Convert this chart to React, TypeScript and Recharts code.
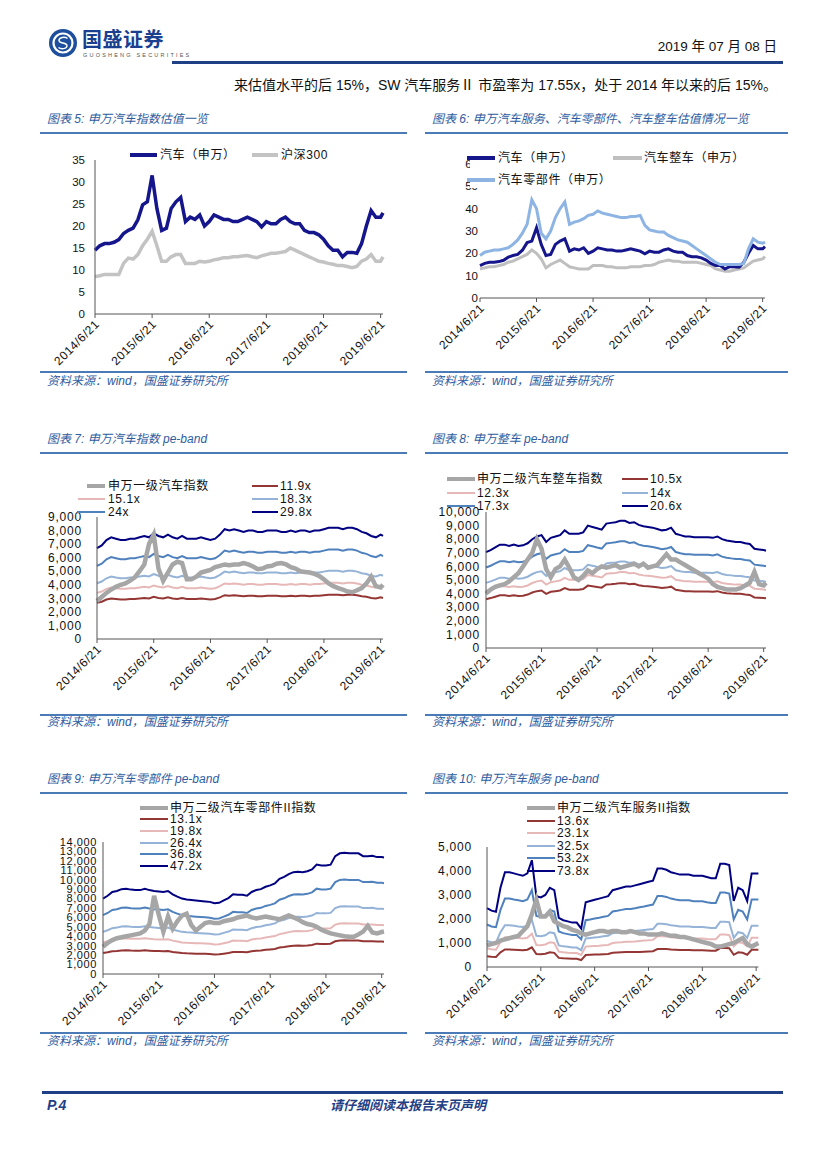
import React from 'react';
import { LineChart, Line, XAxis, YAxis } from 'recharts';

const LATIN = '"Liberation Sans", Arial, "Noto Sans CJK SC", sans-serif';
const CJK = '"Noto Sans CJK SC", "Liberation Sans", sans-serif';
const TITLE_BLUE = '#2f5c9f';
const RULE_BLUE = '#4a7bb7';
const DARK_BLUE = '#1f3f86';

// x axis: months since 2014/6/21, last point early July 2019
const yearLabels = ['2014/6/21', '2015/6/21', '2016/6/21', '2017/6/21', '2018/6/21', '2019/6/21'];
const monthPos = Array.from({ length: 61 }, (_, i) => i).concat([60.5]);

// 图表5 / 图表6: PE (TTM)
const autoSW = [
  14.5, 15.5, 16, 16, 16.3, 16.9, 18.3, 19, 19.5, 21.4,
  24.8, 25.5, 31.5, 24, 19, 19.5, 24, 25.5, 26.5, 21,
  22, 21.5, 22.5, 20, 21, 22.5, 22, 21.5, 21.5, 21,
  21, 21.5, 22, 21.5, 21, 19.8, 21, 20.5, 20.5, 21.5,
  22, 21, 20.5, 20.5, 19, 18.5, 18.5, 18, 17, 15.5,
  14.5, 14.5, 13, 14, 14, 13.8, 16, 20, 23.5, 22,
  22, 23,
];
const hs300 = [
  8.5, 8.7, 9, 9, 9, 9, 11.5, 12.7, 12.5, 13.5,
  15.5, 17, 18.8, 15.5, 12, 12, 13, 13.5, 13.5, 11.5,
  11.5, 11.5, 12, 11.8, 12, 12.3, 12.5, 12.8, 12.8, 13,
  13, 13.2, 13.3, 13, 12.8, 13.2, 13.5, 13.8, 13.8, 14,
  14.2, 15, 14.5, 14, 13.5, 13, 12.5, 12, 11.8, 11.5,
  11.3, 11, 11, 10.8, 10.5, 10.8, 12, 12.5, 13.5, 12,
  12, 13,
];
const vehiclePE = [
  13, 13.5, 14, 14, 14.5, 15, 16, 16.5, 17.5, 18.5,
  19.5, 21.5, 20, 17.5, 13.5, 15, 16, 17, 15.5, 14,
  13.5, 13, 13, 13, 14.5, 14.5, 14.5, 14, 14, 13.5,
  13.5, 13.5, 14, 14, 14, 14.5, 14.5, 15, 16, 16.5,
  17, 16.5, 16.5, 16, 16, 16, 16, 15.5, 15, 14.5,
  13, 12.5, 12, 12, 12.5, 13, 13.5, 15, 16.5, 17,
  17.5, 18.5,
];
const partsPE = [
  19, 20.5, 21, 21.5, 21.5, 22, 22.5, 24, 26, 29,
  33, 44, 40, 29, 26.5, 30, 36, 40, 43, 33,
  34, 34.5, 35.5, 37, 37.5, 39, 38, 37.5, 37, 36.5,
  36, 36, 36.5, 36.5, 37, 32.5, 30.5, 30, 29.5, 29.5,
  28, 27, 26, 25.5, 25, 23.5, 22, 20.5, 19, 17.5,
  16, 15, 15, 15, 15, 15, 15.5, 22, 26.5, 25,
  24.5, 25,
];

// 图表7: 申万汽车 pe-band
const autoIdx = [
  2800, 3100, 3400, 3650, 3850, 4000, 4100, 4300, 4550, 5000,
  5500, 7000, 7700, 5200, 4300, 4900, 5500, 5700, 5600, 4400,
  4400, 4600, 4900, 5000, 5100, 5300, 5400, 5500, 5450, 5500,
  5500, 5600, 5500, 5350, 5150, 5200, 5350, 5400, 5550, 5600,
  5500, 5300, 5200, 5000, 4950, 4900, 4800, 4650, 4400, 4100,
  3900, 3750, 3650, 3500, 3450, 3600, 3750, 4100, 4600, 3900,
  3800, 4000,
];
const auto119 = [
  2670, 2750, 2910, 2990, 2950, 2910, 2910, 2950, 2950, 2990,
  3030, 2990, 3110, 3030, 2990, 3070, 2990, 2950, 3030, 2950,
  2950, 2950, 2990, 2950, 2910, 2950, 3070, 3230, 3190, 3230,
  3190, 3150, 3190, 3190, 3150, 3150, 3190, 3190, 3190, 3150,
  3150, 3190, 3150, 3190, 3190, 3150, 3190, 3190, 3230, 3270,
  3270, 3270, 3230, 3270, 3270, 3230, 3150, 3110, 3030, 2990,
  3070, 3030,
];
const auto151 = [
  3400, 3500, 3700, 3800, 3750, 3700, 3700, 3750, 3750, 3800,
  3850, 3800, 3950, 3850, 3800, 3900, 3800, 3750, 3850, 3750,
  3750, 3750, 3800, 3750, 3700, 3750, 3900, 4100, 4050, 4100,
  4050, 4000, 4050, 4050, 4000, 4000, 4050, 4050, 4050, 4000,
  4000, 4050, 4000, 4050, 4050, 4000, 4050, 4050, 4100, 4150,
  4150, 4150, 4100, 4150, 4150, 4100, 4000, 3950, 3850, 3800,
  3900, 3850,
];
const auto183 = [
  4110, 4240, 4480, 4610, 4540, 4480, 4480, 4540, 4540, 4610,
  4670, 4610, 4790, 4670, 4610, 4730, 4610, 4540, 4670, 4540,
  4540, 4540, 4610, 4540, 4480, 4540, 4730, 4970, 4910, 4970,
  4910, 4850, 4910, 4910, 4850, 4850, 4910, 4910, 4910, 4850,
  4850, 4910, 4850, 4910, 4910, 4850, 4910, 4910, 4970, 5030,
  5030, 5030, 4970, 5030, 5030, 4970, 4850, 4790, 4670, 4610,
  4730, 4670,
];
const auto240 = [
  5390, 5550, 5880, 6040, 5960, 5880, 5880, 5960, 5960, 6040,
  6120, 6040, 6280, 6120, 6040, 6200, 6040, 5960, 6120, 5960,
  5960, 5960, 6040, 5960, 5880, 5960, 6200, 6520, 6440, 6520,
  6440, 6360, 6440, 6440, 6360, 6360, 6440, 6440, 6440, 6360,
  6360, 6440, 6360, 6440, 6440, 6360, 6440, 6440, 6520, 6600,
  6600, 6600, 6520, 6600, 6600, 6520, 6360, 6280, 6120, 6040,
  6200, 6120,
];
const auto298 = [
  6700, 6900, 7300, 7500, 7400, 7300, 7300, 7400, 7400, 7500,
  7600, 7500, 7800, 7600, 7500, 7700, 7500, 7400, 7600, 7400,
  7400, 7400, 7500, 7400, 7300, 7400, 7700, 8100, 8000, 8100,
  8000, 7900, 8000, 8000, 7900, 7900, 8000, 8000, 8000, 7900,
  7900, 8000, 7900, 8000, 8000, 7900, 8000, 8000, 8100, 8200,
  8200, 8200, 8100, 8200, 8200, 8100, 7900, 7800, 7600, 7500,
  7700, 7600,
];

// 图表8: 申万整车 pe-band
const vehIdx = [
  4000, 4300, 4500, 4600, 4700, 4900, 5200, 5500, 6000, 6500,
  7000, 8000, 7300, 5800, 5200, 5800, 6000, 6500, 5900, 5200,
  5000, 5300, 5700, 5500, 5800, 6000, 5900, 6000, 6100, 5900,
  6000, 6100, 6200, 6000, 6200, 5900, 6000, 6100, 6500, 6900,
  6500, 6500, 6300, 6100, 5900, 5700, 5500, 5300, 5100, 4700,
  4500, 4400, 4300, 4300, 4300, 4400, 4600, 4800, 5600, 4700,
  4600, 4800,
];
const veh105 = [
  3590, 3670, 3770, 3870, 3870, 3830, 3870, 3830, 3850, 3930,
  4080, 4180, 4230, 3980, 4130, 4180, 4230, 4410, 4280, 4280,
  4280, 4340, 4590, 4540, 4490, 4440, 4670, 4690, 4720, 4770,
  4770, 4690, 4720, 4620, 4560, 4540, 4510, 4460, 4410, 4440,
  4510, 4280, 4230, 4180, 4180, 4160, 4160, 4160, 4160, 4130,
  4180, 4080, 4030, 4000, 3980, 3980, 3930, 3900, 3720, 3700,
  3670, 3650,
];
const veh123 = [
  4210, 4300, 4420, 4540, 4540, 4480, 4540, 4480, 4510, 4600,
  4780, 4900, 4960, 4660, 4840, 4900, 4960, 5160, 5010, 5010,
  5010, 5070, 5370, 5310, 5250, 5190, 5460, 5490, 5520, 5580,
  5580, 5490, 5520, 5400, 5340, 5310, 5280, 5220, 5160, 5190,
  5280, 5010, 4960, 4900, 4900, 4870, 4870, 4870, 4870, 4840,
  4900, 4780, 4720, 4690, 4660, 4660, 4600, 4570, 4360, 4330,
  4300, 4270,
];
const veh140 = [
  4790, 4900, 5030, 5170, 5170, 5100, 5170, 5100, 5130, 5240,
  5440, 5580, 5640, 5300, 5510, 5580, 5640, 5880, 5710, 5710,
  5710, 5780, 6120, 6050, 5980, 5920, 6220, 6260, 6290, 6360,
  6360, 6260, 6290, 6150, 6090, 6050, 6020, 5950, 5880, 5920,
  6020, 5710, 5640, 5580, 5580, 5540, 5540, 5540, 5540, 5510,
  5580, 5440, 5370, 5340, 5300, 5300, 5240, 5200, 4960, 4930,
  4900, 4860,
];
const veh173 = [
  5920, 6050, 6220, 6380, 6380, 6300, 6380, 6300, 6340, 6470,
  6720, 6890, 6970, 6550, 6800, 6890, 6970, 7270, 7060, 7060,
  7060, 7140, 7560, 7480, 7390, 7310, 7690, 7730, 7770, 7850,
  7850, 7730, 7770, 7600, 7520, 7480, 7430, 7350, 7270, 7310,
  7430, 7060, 6970, 6890, 6890, 6850, 6850, 6850, 6850, 6800,
  6890, 6720, 6640, 6590, 6550, 6550, 6470, 6430, 6130, 6090,
  6050, 6010,
];
const veh206 = [
  7050, 7200, 7400, 7600, 7600, 7500, 7600, 7500, 7550, 7700,
  8000, 8200, 8300, 7800, 8100, 8200, 8300, 8650, 8400, 8400,
  8400, 8500, 9000, 8900, 8800, 8700, 9150, 9200, 9250, 9350,
  9350, 9200, 9250, 9050, 8950, 8900, 8850, 8750, 8650, 8700,
  8850, 8400, 8300, 8200, 8200, 8150, 8150, 8150, 8150, 8100,
  8200, 8000, 7900, 7850, 7800, 7800, 7700, 7650, 7300, 7250,
  7200, 7150,
];

// 图表9: 申万汽车零部件 pe-band
const partIdx = [
  2900, 3300, 3600, 3800, 3900, 4000, 4100, 4200, 4300, 4600,
  5300, 8300, 6300, 4500, 6100, 4800, 5600, 6200, 6400, 5200,
  4600, 5000, 5400, 5500, 5400, 5400, 5600, 5700, 5800, 6000,
  6100, 6200, 6000, 5900, 6000, 6100, 6000, 5900, 5800, 6000,
  6200, 6000, 5800, 5500, 5300, 5200, 5000, 4700, 4500, 4300,
  4200, 4100, 4000, 3950, 3950, 4200, 4500, 5100, 4400, 4300,
  4450, 4500,
];
const part131 = [
  2220, 2300, 2410, 2440, 2500, 2510, 2480, 2470, 2470, 2510,
  2470, 2440, 2430, 2410, 2440, 2340, 2280, 2220, 2190, 2180,
  2160, 2150, 2140, 2120, 2080, 2100, 2160, 2230, 2340, 2330,
  2330, 2300, 2410, 2470, 2500, 2570, 2610, 2660, 2800, 2860,
  2940, 3000, 3010, 3000, 3020, 3080, 3220, 3190, 3190, 3220,
  3470, 3550, 3570, 3550, 3550, 3550, 3470, 3470, 3480, 3440,
  3440, 3430,
];
const part198 = [
  3350, 3480, 3650, 3690, 3770, 3790, 3750, 3730, 3730, 3790,
  3730, 3690, 3670, 3650, 3690, 3540, 3440, 3350, 3310, 3290,
  3270, 3250, 3230, 3210, 3140, 3160, 3270, 3370, 3540, 3520,
  3520, 3480, 3650, 3730, 3770, 3880, 3940, 4020, 4230, 4320,
  4440, 4530, 4550, 4530, 4570, 4650, 4860, 4820, 4820, 4860,
  5240, 5360, 5380, 5360, 5360, 5360, 5240, 5240, 5260, 5200,
  5200, 5170,
];
const part264 = [
  4470, 4640, 4860, 4920, 5030, 5060, 5000, 4980, 4980, 5060,
  4980, 4920, 4890, 4860, 4920, 4720, 4580, 4470, 4420, 4390,
  4360, 4330, 4300, 4280, 4190, 4220, 4360, 4500, 4720, 4700,
  4700, 4640, 4860, 4980, 5030, 5170, 5250, 5370, 5650, 5760,
  5930, 6040, 6070, 6040, 6090, 6200, 6480, 6430, 6430, 6480,
  6990, 7160, 7180, 7160, 7160, 7160, 6990, 6990, 7020, 6930,
  6930, 6900,
];
const part368 = [
  6240, 6470, 6790, 6860, 7020, 7060, 6980, 6940, 6940, 7060,
  6940, 6860, 6830, 6790, 6860, 6590, 6400, 6240, 6160, 6120,
  6080, 6050, 6010, 5970, 5850, 5890, 6080, 6280, 6590, 6550,
  6550, 6470, 6790, 6940, 7020, 7220, 7330, 7490, 7880, 8030,
  8270, 8420, 8460, 8420, 8500, 8660, 9050, 8970, 8970, 9050,
  9750, 9980, 10020, 9980, 9980, 9980, 9750, 9750, 9790, 9670,
  9670, 9630,
];
const part472 = [
  8000, 8300, 8700, 8800, 9000, 9050, 8950, 8900, 8900, 9050,
  8900, 8800, 8750, 8700, 8800, 8450, 8200, 8000, 7900, 7850,
  7800, 7750, 7700, 7650, 7500, 7550, 7800, 8050, 8450, 8400,
  8400, 8300, 8700, 8900, 9000, 9250, 9400, 9600, 10100, 10300,
  10600, 10800, 10850, 10800, 10900, 11100, 11600, 11500, 11500, 11600,
  12500, 12800, 12850, 12800, 12800, 12800, 12500, 12500, 12550, 12400,
  12400, 12350,
];

// 图表10: 申万汽车服务 pe-band
const servIdx = [
  900, 950, 1000, 1100, 1150, 1200, 1250, 1300, 1500, 1700,
  2200, 2800, 2100, 2100, 2300, 1900, 1800, 1700, 1650, 1550,
  1500, 1400, 1350, 1400, 1450, 1500, 1500, 1450, 1500, 1500,
  1450, 1450, 1500, 1450, 1400, 1400, 1350, 1350, 1350, 1400,
  1350, 1300, 1300, 1250, 1250, 1200, 1150, 1100, 1050, 1000,
  950, 850, 850, 900, 950, 1000, 1100, 1200, 950, 850,
  950, 1000,
];
const serv136 = [
  450, 430, 420, 610, 730, 730, 720, 710, 700, 720,
  820, 540, 530, 550, 610, 590, 380, 360, 350, 340,
  340, 290, 500, 510, 520, 520, 530, 540, 590, 600,
  610, 620, 620, 630, 630, 640, 650, 660, 750, 750,
  750, 730, 720, 710, 710, 710, 700, 700, 700, 690,
  680, 680, 790, 790, 780, 510, 610, 590, 510, 720,
  720, 720,
];
const serv231 = [
  770, 740, 720, 1030, 1240, 1240, 1220, 1210, 1190, 1220,
  1390, 920, 910, 940, 1030, 1000, 640, 610, 590, 580,
  580, 500, 850, 860, 880, 890, 910, 920, 1000, 1020,
  1030, 1050, 1050, 1060, 1080, 1100, 1110, 1130, 1280, 1280,
  1270, 1240, 1220, 1210, 1210, 1210, 1190, 1190, 1190, 1170,
  1160, 1160, 1350, 1350, 1330, 860, 1030, 1000, 860, 1220,
  1220, 1220,
];
const serv325 = [
  1080, 1030, 1010, 1450, 1740, 1740, 1720, 1690, 1670, 1720,
  1960, 1300, 1280, 1320, 1450, 1410, 900, 860, 840, 810,
  810, 700, 1190, 1210, 1230, 1250, 1280, 1300, 1410, 1430,
  1450, 1470, 1470, 1500, 1520, 1540, 1560, 1580, 1800, 1800,
  1780, 1740, 1720, 1690, 1690, 1690, 1670, 1670, 1670, 1650,
  1630, 1630, 1890, 1890, 1870, 1210, 1450, 1410, 1210, 1720,
  1720, 1720,
];
const serv532 = [
  1770, 1690, 1660, 2380, 2850, 2850, 2810, 2780, 2740, 2810,
  3210, 2130, 2090, 2160, 2380, 2310, 1480, 1410, 1370, 1330,
  1330, 1150, 1950, 1980, 2020, 2050, 2090, 2130, 2310, 2340,
  2380, 2420, 2420, 2450, 2490, 2520, 2560, 2600, 2960, 2960,
  2920, 2850, 2810, 2780, 2780, 2780, 2740, 2740, 2740, 2700,
  2670, 2670, 3100, 3100, 3060, 1980, 2380, 2310, 1980, 2810,
  2810, 2810,
];
const serv738 = [
  2450, 2350, 2300, 3300, 3950, 3950, 3900, 3850, 3800, 3900,
  4450, 2950, 2900, 3000, 3300, 3200, 2050, 1950, 1900, 1850,
  1850, 1600, 2700, 2750, 2800, 2850, 2900, 2950, 3200, 3250,
  3300, 3350, 3350, 3400, 3450, 3500, 3550, 3600, 4100, 4100,
  4050, 3950, 3900, 3850, 3850, 3850, 3800, 3800, 3800, 3750,
  3700, 3700, 4300, 4300, 4250, 2750, 3300, 3200, 2750, 3900,
  3900, 3900,
];

const buildRows = (cols: Record<string, number[]>) =>
  monthPos.map((t, i) => {
    const row: Record<string, number> = { t };
    Object.keys(cols).forEach((k) => { row[k] = cols[k][i]; });
    return row;
  });

const peColors = {
  idx: '#a6a6a6',
  b1: '#943634',
  b2: '#e6b9b8',
  b3: '#95b3d7',
  b4: '#4f81bd',
  b5: '#000080',
};

const XTick = (props: any) => {
  const { x, y, payload } = props;
  const ax = x + 5;
  const ay = y + 5;
  return (
    <text x={ax} y={ay} transform={`rotate(-45, ${ax}, ${ay})`} textAnchor="end"
      fontSize={12} letterSpacing={0.5} fill="#111" fontFamily={LATIN}>
      {yearLabels[Math.round(payload.value / 12)]}
    </text>
  );
};

const YTick = (props: any) => {
  const { x, y, payload, comma, fs, ls } = props;
  const v = comma ? Number(payload.value).toLocaleString('en-US') : String(payload.value);
  return (
    <text x={x} y={y} dy={fs * 0.35} textAnchor="end" fontSize={fs} letterSpacing={ls} fill="#111" fontFamily={LATIN}>
      {v}
    </text>
  );
};

type Series = { key: string; color: string; w: number };

const Panel = ({ left, top, width, height, yWidth, yGap, yMax, yStep, comma, rows, series, yLine = true, right, fs = 12, ls = 0 }: any) => {
  const ticks: number[] = [];
  for (let v = 0; v <= yMax; v += yStep) ticks.push(v);
  return (
    <div style={{ position: 'absolute', left, top }}>
      <LineChart width={width} height={height} data={rows} margin={{ top: 10, right, left: 0, bottom: 0 }}>
        <XAxis type="number" dataKey="t" domain={[0, 60.5]} ticks={[0, 12, 24, 36, 48, 60]} interval={0}
          height={60} tickSize={4} tickMargin={2} stroke="#555" tick={<XTick />} />
        <YAxis type="number" domain={[0, yMax]} ticks={ticks} interval={0} width={yWidth}
          tickSize={0} tickMargin={yGap} tickLine={false} axisLine={yLine ? { stroke: '#555' } : false}
          tick={<YTick comma={comma} fs={fs} ls={ls} />} />
        {series.map((s: Series) => (
          <Line key={s.key} type="linear" dataKey={s.key} stroke={s.color} strokeWidth={s.w}
            dot={false} activeDot={false} isAnimationActive={false} />
        ))}
      </LineChart>
    </div>
  );
};

const LegendItem = ({ x1, x2, tx, y, color, w, label }: any) => (
  <>
    <div style={{ position: 'absolute', left: x1, top: y - w / 2, width: x2 - x1, height: w, background: color }} />
    <div style={{ position: 'absolute', left: tx, top: y - 8, fontSize: 12, lineHeight: '16px', fontFamily: LATIN, color: '#111', whiteSpace: 'nowrap', letterSpacing: 0.6 }}>
      {label}
    </div>
  </>
);

const Section = ({ x, w, titleY, ruleY, srcRuleY, srcY, title }: any) => (
  <>
    <div style={{ position: 'absolute', left: x + 7, top: titleY - 8, fontSize: 12, lineHeight: '16px', fontStyle: 'italic', color: TITLE_BLUE, fontFamily: LATIN, whiteSpace: 'nowrap' }}>
      {title}
    </div>
    <div style={{ position: 'absolute', left: x, top: ruleY - 1, width: w, height: 1.5, background: RULE_BLUE }} />
    <div style={{ position: 'absolute', left: x, top: srcRuleY - 1, width: w, height: 1.5, background: RULE_BLUE }} />
    <div style={{ position: 'absolute', left: x + 7, top: srcY - 8, fontSize: 12, lineHeight: '16px', fontStyle: 'italic', color: TITLE_BLUE, fontFamily: LATIN, whiteSpace: 'nowrap' }}>
      资料来源：wind，国盛证券研究所
    </div>
  </>
);

const peSeries: Series[] = [
  { key: 'b1', color: peColors.b1, w: 2 },
  { key: 'b2', color: peColors.b2, w: 2 },
  { key: 'b3', color: peColors.b3, w: 2 },
  { key: 'b4', color: peColors.b4, w: 2 },
  { key: 'b5', color: peColors.b5, w: 2 },
  { key: 'idx', color: peColors.idx, w: 4.5 },
];

export default function App() {
  const rows5 = buildRows({ auto: autoSW, hs: hs300 });
  const rows6 = buildRows({ veh: vehiclePE, auto: autoSW, parts: partsPE });
  const rows7 = buildRows({ idx: autoIdx, b1: auto119, b2: auto151, b3: auto183, b4: auto240, b5: auto298 });
  const rows8 = buildRows({ idx: vehIdx, b1: veh105, b2: veh123, b3: veh140, b4: veh173, b5: veh206 });
  const rows9 = buildRows({ idx: partIdx, b1: part131, b2: part198, b3: part264, b4: part368, b5: part472 });
  const rows10 = buildRows({ idx: servIdx, b1: serv136, b2: serv231, b3: serv325, b4: serv532, b5: serv738 });

  return (
    <div style={{ position: 'absolute', left: 0, top: 0, width: 827, height: 1170, background: '#fff', overflow: 'hidden', fontFamily: LATIN }}>
      {/* header */}
      <svg style={{ position: 'absolute', left: 48, top: 28 }} width={30} height={30} viewBox="0 0 30 30">
        <circle cx={15} cy={15} r={14} fill="#1d4f9e" />
        <circle cx={15} cy={15} r={9.5} fill="none" stroke="#fff" strokeWidth={2.2} />
        <path d="M19.5 10.5 C17 8.5 11 9 11 12.5 C11 16 19 14 19 17.8 C19 21 13 21.5 10.5 19.5" fill="none" stroke="#1d4f9e" strokeWidth={3.2} />
        <path d="M19.5 10.5 C17 8.5 11 9 11 12.5 C11 16 19 14 19 17.8 C19 21 13 21.5 10.5 19.5" fill="none" stroke="#fff" strokeWidth={1.4} />
      </svg>
      <div style={{ position: 'absolute', left: 82, top: 27, fontSize: 20, lineHeight: '24px', fontWeight: 'bold', color: '#1b3f8f', fontFamily: CJK, letterSpacing: 0.5 }}>国盛证券</div>
      <div style={{ position: 'absolute', left: 83, top: 52, fontSize: 5.5, lineHeight: '6px', color: '#555', letterSpacing: 2.2, whiteSpace: 'nowrap' }}>GUOSHENG SECURITIES</div>
      <div style={{ position: 'absolute', right: 827 - 777, top: 38, fontSize: 13.5, lineHeight: '18px', color: '#111', whiteSpace: 'nowrap' }}>2019 年 07 月 08 日</div>
      <div style={{ position: 'absolute', left: 172, top: 61, width: 611, height: 3, background: DARK_BLUE }} />
      <div style={{ position: 'absolute', right: 827 - 777, top: 76, fontSize: 14, lineHeight: '18px', color: '#111', whiteSpace: 'nowrap' }}>
        来估值水平的后 15%，SW 汽车服务Ⅱ 市盈率为 17.55x，处于 2014 年以来的后 15%。
      </div>

      {/* section frames */}
      <Section x={40} w={367} titleY={119} ruleY={133} srcRuleY={372} srcY={381} title="图表 5:  申万汽车指数估值一览" />
      <Section x={425} w={363} titleY={119} ruleY={133} srcRuleY={372} srcY={381} title="图表 6:  申万汽车服务、汽车零部件、汽车整车估值情况一览" />
      <Section x={40} w={367} titleY={439} ruleY={453} srcRuleY={715} srcY={722} title="图表 7:  申万汽车指数 pe-band" />
      <Section x={425} w={363} titleY={439} ruleY={453} srcRuleY={715} srcY={722} title="图表 8:  申万整车 pe-band" />
      <Section x={40} w={367} titleY={779} ruleY={793} srcRuleY={1033} srcY={1041} title="图表 9:  申万汽车零部件 pe-band" />
      <Section x={425} w={363} titleY={779} ruleY={793} srcRuleY={1033} srcY={1041} title="图表 10:  申万汽车服务 pe-band" />

      {/* 图表5 */}
      <Panel left={40} top={150} width={350} height={224} yWidth={55} yGap={10} right={7} yMax={35} yStep={5}
        fs={11.5} rows={rows5}
        series={[{ key: 'hs', color: '#c3c3c3', w: 3.5 }, { key: 'auto', color: '#15158c', w: 3.5 }]} />
      <LegendItem x1={130} x2={157} tx={160} y={155} color="#15158c" w={4} label="汽车（申万）" />
      <LegendItem x1={252} x2={278} tx={281} y={155} color="#c3c3c3" w={4} label="沪深300" />

      {/* 图表6 */}
      <Panel left={425} top={154} width={345} height={204} yWidth={55} yGap={2} right={5} yMax={60} yStep={10}
        fs={11.5} rows={rows6} yLine={false}
        series={[{ key: 'veh', color: '#bfbfbf', w: 3 }, { key: 'auto', color: '#15158c', w: 3 }, { key: 'parts', color: '#8db4e2', w: 3 }]} />
      <div style={{ position: 'absolute', left: 470, top: 146, width: 287, height: 42, background: '#fff' }} />
      <LegendItem x1={467} x2={495} tx={498} y={158} color="#15158c" w={4} label="汽车（申万）" />
      <LegendItem x1={613} x2={642} tx={644} y={158} color="#bfbfbf" w={4} label="汽车整车（申万）" />
      <LegendItem x1={467} x2={495} tx={498} y={180} color="#8db4e2" w={4} label="汽车零部件（申万）" />

      {/* 图表7 */}
      <Panel left={40} top={507} width={350} height={192} yWidth={57} yGap={15} right={7} yMax={9000} yStep={1000}
        comma ls={0.8} rows={rows7} series={peSeries} />
      <LegendItem x1={87} x2={105} tx={108} y={486} color={peColors.idx} w={4.5} label="申万一级汽车指数" />
      <LegendItem x1={252} x2={278} tx={280} y={486} color={peColors.b1} w={2} label="11.9x" />
      <LegendItem x1={78} x2={105} tx={108} y={499} color={peColors.b2} w={2} label="15.1x" />
      <LegendItem x1={252} x2={278} tx={280} y={499} color={peColors.b3} w={2} label="18.3x" />
      <LegendItem x1={77} x2={105} tx={108} y={512} color={peColors.b4} w={2} label="24x" />
      <LegendItem x1={252} x2={278} tx={280} y={512} color={peColors.b5} w={2} label="29.8x" />

      {/* 图表8 */}
      <Panel left={425} top={502} width={348} height={206} yWidth={61} yGap={6} right={7} yMax={10000} yStep={1000}
        comma ls={0.8} rows={rows8} series={peSeries} />
      <LegendItem x1={447} x2={475} tx={477} y={479} color={peColors.idx} w={4.5} label="申万二级汽车整车指数" />
      <LegendItem x1={622} x2={648} tx={650} y={479} color={peColors.b1} w={2} label="10.5x" />
      <LegendItem x1={447} x2={475} tx={477} y={493} color={peColors.b2} w={2} label="12.3x" />
      <LegendItem x1={622} x2={648} tx={650} y={493} color={peColors.b3} w={2} label="14x" />
      <LegendItem x1={447} x2={475} tx={477} y={506} color={peColors.b4} w={2} label="17.3x" />
      <LegendItem x1={622} x2={648} tx={650} y={506} color={peColors.b5} w={2} label="20.6x" />

      {/* 图表9 */}
      <Panel left={40} top={832} width={351} height={202} yWidth={63} yGap={6} right={7} yMax={14000} yStep={1000}
        comma fs={11} ls={0.6} rows={rows9} series={peSeries} />
      <LegendItem x1={140} x2={168} tx={170} y={808} color={peColors.idx} w={4.5} label="申万二级汽车零部件II指数" />
      <LegendItem x1={140} x2={168} tx={170} y={819} color={peColors.b1} w={2} label="13.1x" />
      <LegendItem x1={140} x2={168} tx={170} y={831} color={peColors.b2} w={2} label="19.8x" />
      <LegendItem x1={140} x2={168} tx={170} y={843} color={peColors.b3} w={2} label="26.4x" />
      <LegendItem x1={140} x2={168} tx={170} y={854} color={peColors.b4} w={2} label="36.8x" />
      <LegendItem x1={140} x2={168} tx={170} y={866} color={peColors.b5} w={2} label="47.2x" />

      {/* 图表10 */}
      <Panel left={425} top={837} width={340} height={190} yWidth={62} yGap={15} right={6.6} yMax={5000} yStep={1000}
        comma ls={0.8} rows={rows10} series={peSeries} />
      <LegendItem x1={527} x2={555} tx={557} y={808} color={peColors.idx} w={4.5} label="申万二级汽车服务II指数" />
      <LegendItem x1={527} x2={555} tx={557} y={821} color={peColors.b1} w={2} label="13.6x" />
      <LegendItem x1={527} x2={555} tx={557} y={833} color={peColors.b2} w={2} label="23.1x" />
      <LegendItem x1={527} x2={555} tx={557} y={846} color={peColors.b3} w={2} label="32.5x" />
      <LegendItem x1={527} x2={555} tx={557} y={858} color={peColors.b4} w={2} label="53.2x" />
      <LegendItem x1={527} x2={555} tx={557} y={871} color={peColors.b5} w={2} label="73.8x" />

      {/* footer */}
      <div style={{ position: 'absolute', left: 42, top: 1091, width: 741, height: 3, background: DARK_BLUE }} />
      <div style={{ position: 'absolute', left: 47, top: 1096, fontSize: 14, lineHeight: '18px', fontWeight: 'bold', fontStyle: 'italic', color: DARK_BLUE }}>P.4</div>
      <div style={{ position: 'absolute', left: 330, top: 1096, fontSize: 13, lineHeight: '18px', fontWeight: 'bold', fontStyle: 'italic', color: DARK_BLUE, fontFamily: CJK, whiteSpace: 'nowrap' }}>请仔细阅读本报告末页声明</div>
    </div>
  );
}
